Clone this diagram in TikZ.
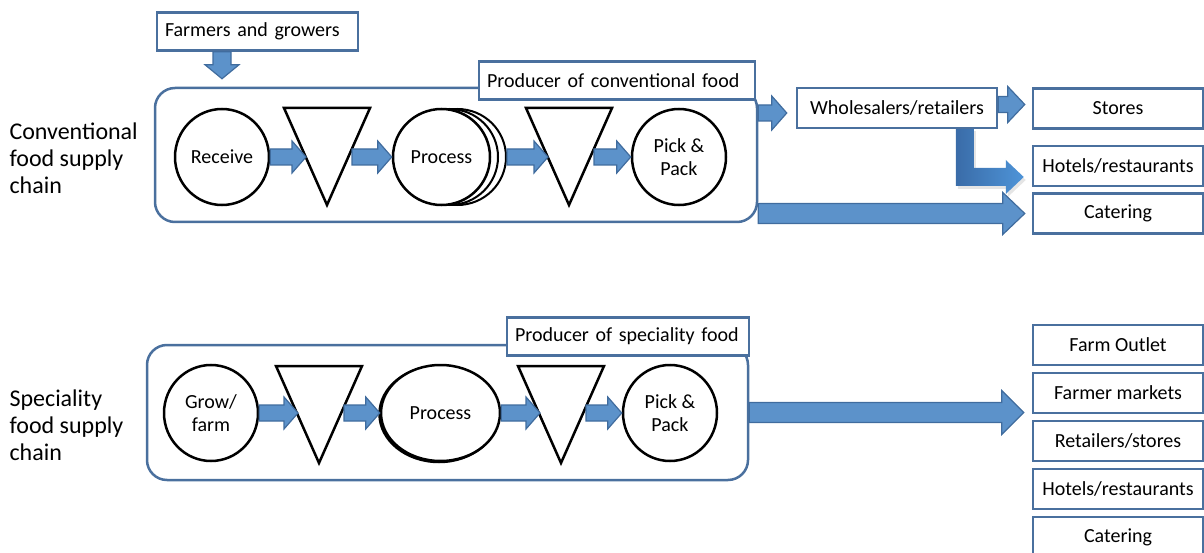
\documentclass[tikz,border=0pt]{standalone}
\usepackage{fontspec}
\setmainfont{Carlito}
\usetikzlibrary{positioning,calc,shapes.geometric}
\definecolor{boxblue}{RGB}{74,112,158}
\definecolor{arrowfill}{RGB}{92,146,202}
\definecolor{arrowline}{RGB}{64,108,158}
\definecolor{bendleft}{RGB}{58,108,168}
\definecolor{bendright}{RGB}{78,148,216}
\newcommand{\boxfont}{\fontsize{20}{23}\selectfont}
\tikzstyle{chainbox}=[rectangle, rounded corners=20pt, draw=boxblue, line width=2.5pt, fill=white]
\tikzstyle{tagbox}=[rectangle, draw=boxblue, line width=2.5pt, fill=white, minimum height=38pt, inner xsep=8pt, align=left, font=\boxfont]
\tikzstyle{outbox}=[rectangle, draw=boxblue, line width=2.5pt, fill=white, minimum width=170pt, minimum height=40pt, inner sep=0pt, font=\boxfont]
\tikzstyle{stepcircle}=[ellipse, draw=black, line width=2.5pt, fill=white, minimum width=94pt, minimum height=96pt, inner sep=0pt, align=center, font=\boxfont]
\tikzstyle{storetri}=[draw=black, line width=2.5pt, fill=white, line join=miter]
\tikzstyle{barrow}=[fill=arrowfill, draw=arrowline, line width=1.2pt]
\tikzstyle{chainlabel}=[anchor=west, align=left, font=\fontsize{24}{27}\selectfont]
% block arrow: from, to, shaft half, head half, head length
\newcommand{\flowarrow}[5]{\filldraw[barrow] ($(#1|-#2)+(0,#3)$) -- ($(#2)+(-#5,#3)$) -- ($(#2)+(-#5,#4)$) -- (#2) -- ($(#2)+(-#5,-#4)$) -- ($(#2)+(-#5,-#3)$) -- ($(#1|-#2)+(0,-#3)$) -- cycle;}
% storage triangle hanging from its top centre
\newcommand{\vtri}[1]{\draw[storetri] ($(#1)+(-43,0)$) -- ($(#1)+(43,0)$) -- ($(#1)+(0,97)$) -- cycle;}
\begin{document}
\begin{tikzpicture}[x=1pt,y=-1pt]
\useasboundingbox (0,0) rectangle (1204,553);
% conventional chain
\node (convlab) [chainlabel] at (6,158) {Conventional\\food supply\\chain};
\node (conv) [chainbox, minimum width=602pt, minimum height=134pt] at (456,155) {};
\node (prodc) [tagbox, text width=260pt] at (617,80.5) {Producer of conventional food};
\node (farm) [tagbox, text width=185pt] at (257.5,31.5) {Farmers and growers};
\node (rcv) [stepcircle] at (222,157) {Receive};
\coordinate (t1) at (327,108);
\vtri{t1}
\node (procc) [stepcircle, minimum width=97pt, line width=2pt] at (457.5,157) {};
\node (procb) [stepcircle, minimum width=97pt, line width=2pt] at (449.5,157) {};
\node (proc) [stepcircle, minimum width=97pt] at (441.5,157) {Process};
\coordinate (t2) at (569,108);
\vtri{t2}
\node (pick) [stepcircle] at (679,157) {Pick \&\\Pack};
\coordinate (t1in) at ($(t1)+(-21,49)$);
\coordinate (t1out) at ($(t1)+(25,49)$);
\coordinate (t2in) at ($(t2)+(-21,49)$);
\coordinate (t2out) at ($(t2)+(25,49)$);
\flowarrow{rcv.east}{t1in}{8}{16}{14}
\flowarrow{t1out}{proc.west}{8}{16}{14}
\flowarrow{procc.east}{t2in}{8}{16}{14}
\flowarrow{t2out}{pick.west}{8}{16}{14}
% farmers feed in
\coordinate (fdrop) at (farm.south -| rcv);
\coordinate (fland) at ($(conv.north -| rcv)+(0,-8)$);
\filldraw[barrow] ($(fdrop)+(-9,0)$) -- ($(fland)+(-9,-14)$) -- ($(fland)+(-17,-14)$) -- (fland) -- ($(fland)+(17,-14)$) -- ($(fland)+(9,-14)$) -- ($(fdrop)+(9,0)$) -- cycle;
% outlets
\node (wsale) [outbox, minimum width=200pt] at (897,108) {Wholesalers/retailers};
\node (stores) [outbox] at (1118,108.5) {Stores};
\node (hotel1) [outbox, below=15pt of stores] {Hotels/restaurants};
\node (cater1) [outbox, below=5pt of hotel1] {Catering};
\coordinate (wsin) at ($(wsale.west)+(-9,5)$);
\coordinate (stin) at ($(stores.west)+(-7,-4)$);
\coordinate (ctin) at ($(cater1.west)+(-7,0)$);
\flowarrow{conv.east}{wsin}{8}{17}{15}
\flowarrow{wsale.east}{stin}{8}{18}{17}
\flowarrow{conv.east}{ctin}{10}{21}{22}
\coordinate (wdrop) at ($(wsale.south west)+(169,0)$);
\coordinate (hotin) at ($(hotel1.west)+(-8,11)$);
\fill[black, opacity=0.1] ($(wdrop)+(-7,2)$) -- ($(wdrop|-hotin)+(-7,12)$) -- ($(hotin)+(-16,12)$) -- ($(hotin)+(-16,20)$) -- ($(hotin)+(2,3)$) -- ($(hotin)+(-16,-14)$) -- ($(hotin)+(-16,-6)$) -- ($(wdrop|-hotin)+(11,-6)$) -- ($(wdrop)+(11,2)$) -- cycle;
\shade[left color=bendleft, right color=bendright] ($(wdrop)+(-9,0)$) -- ($(wdrop|-hotin)+(-9,9)$) -- ($(hotin)+(-18,9)$) -- ($(hotin)+(-18,17)$) -- (hotin) -- ($(hotin)+(-18,-17)$) -- ($(hotin)+(-18,-9)$) -- ($(wdrop|-hotin)+(9,-9)$) -- ($(wdrop)+(9,0)$) -- cycle;
% speciality chain
\node (speclab) [chainlabel] at (6,425) {Speciality\\food supply\\chain};
\node (spec) [chainbox, minimum width=601pt, minimum height=135pt] at (447.5,412.5) {};
\node (prods) [tagbox, text width=226pt] at (628,336.5) {Producer of speciality food};
\node (grow) [stepcircle] at (211,413) {Grow/\\farm};
\coordinate (t3) at (319,366);
\vtri{t3}
\node (sprocb) [stepcircle, minimum width=119pt] at (439,414) {};
\node (sproc) [stepcircle, minimum width=119pt] at (440.5,413) {Process};
\coordinate (t4) at (561,366);
\vtri{t4}
\node (spick) [stepcircle] at (670,413) {Pick \&\\Pack};
\coordinate (t3in) at ($(t3)+(-21,47)$);
\coordinate (t3out) at ($(t3)+(25,47)$);
\coordinate (t4in) at ($(t4)+(-21,47)$);
\coordinate (t4out) at ($(t4)+(25,47)$);
\flowarrow{grow.east}{t3in}{8}{16}{14}
\flowarrow{t3out}{sproc.west}{8}{16}{14}
\flowarrow{sproc.east}{t4in}{8}{16}{14}
\flowarrow{t4out}{spick.west}{8}{16}{14}
\node (fout) [outbox] at (1118,345) {Farm Outlet};
\node (fmkt) [outbox, below=5.5pt of fout] {Farmer markets};
\node (retl) [outbox, below=5.5pt of fmkt] {Retailers/stores};
\node (hotel2) [outbox, below=5.5pt of retl] {Hotels/restaurants};
\node (cater2) [outbox, below=5.5pt of hotel2] {Catering};
\coordinate (specin) at ($(spec.east -| fout.west)+(-8,0)$);
\flowarrow{spec.east}{specin}{10}{22}{22}
\end{tikzpicture}
\end{document}
